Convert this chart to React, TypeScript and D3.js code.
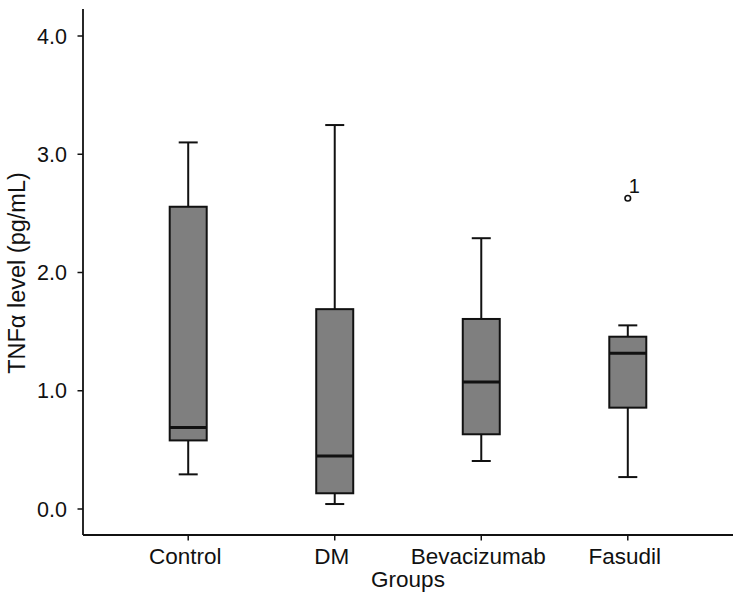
import React from "react";
import * as d3 from "d3";

const groups = ["Control", "DM", "Bevacizumab", "Fasudil"];
const whiskerLow = [0.293, 0.042, 0.406, 0.27];
const q1 = [0.58, 0.133, 0.632, 0.857];
const medians = [0.69, 0.448, 1.074, 1.317];
const q3 = [2.556, 1.69, 1.607, 1.457];
const whiskerHigh = [3.1, 3.247, 2.29, 1.553];
const outliers = [{ group: "Fasudil", value: 2.628, label: "1" }];
const yTicks = [0, 1, 2, 3, 4];

export default function App() {
  const W = 744;
  const H = 598;
  const axisX = 83;
  const axisY = 535;
  const x = d3.scalePoint<string>().domain(groups).range([83, 733]).padding(0.718);
  const y = d3.scaleLinear().domain([0, 4]).range([509, 36]);
  const boxW = 37;
  const capW = 19;
  const font = "'Liberation Sans', Arial, Helvetica, sans-serif";
  const ink = "#111";
  const txt = "#111";

  return (
    <svg width={W} height={H} style={{ position: "absolute", left: 0, top: 0, background: "#fff" }} fontFamily={font}>
      {/* axes */}
      <line x1={axisX} x2={axisX} y1={9} y2={axisY} stroke={ink} strokeWidth={1.8} />
      <line x1={axisX} x2={733} y1={axisY} y2={axisY} stroke={ink} strokeWidth={1.8} />
      {yTicks.map((t) => (
        <g key={t}>
          <line x1={axisX - 5.5} x2={axisX} y1={y(t)} y2={y(t)} stroke={ink} strokeWidth={1.5} />
          <text x={67} y={y(t) + 7.5} textAnchor="end" fontSize={21.5} fill={txt}>
            {d3.format(".1f")(t)}
          </text>
        </g>
      ))}
      {groups.map((g) => (
        <g key={g}>
          <line x1={x(g)!} x2={x(g)!} y1={axisY} y2={axisY + 5.5} stroke={ink} strokeWidth={1.5} />
          <text x={x(g)! - 3} y={564} textAnchor="middle" fontSize={22.5} fill={txt}>
            {g}
          </text>
        </g>
      ))}
      <text x={408} y={587} textAnchor="middle" fontSize={22.5} fill={txt}>
        Groups
      </text>
      <text transform={`translate(25,273) rotate(-90)`} textAnchor="middle" fontSize={23.5} fill={txt}>
        TNFα level (pg/mL)
      </text>

      {/* boxes */}
      {groups.map((g, i) => {
        const cx = x(g)!;
        return (
          <g key={g}>
            <line x1={cx} x2={cx} y1={y(whiskerHigh[i])} y2={y(q3[i])} stroke={ink} strokeWidth={2} />
            <line x1={cx} x2={cx} y1={y(q1[i])} y2={y(whiskerLow[i])} stroke={ink} strokeWidth={2} />
            <line x1={cx - capW / 2} x2={cx + capW / 2} y1={y(whiskerHigh[i])} y2={y(whiskerHigh[i])} stroke={ink} strokeWidth={2} />
            <line x1={cx - capW / 2} x2={cx + capW / 2} y1={y(whiskerLow[i])} y2={y(whiskerLow[i])} stroke={ink} strokeWidth={2} />
            <rect
              x={cx - boxW / 2}
              y={y(q3[i])}
              width={boxW}
              height={y(q1[i]) - y(q3[i])}
              fill="#7f7f7f"
              stroke={ink}
              strokeWidth={2}
            />
            <line x1={cx - boxW / 2} x2={cx + boxW / 2} y1={y(medians[i])} y2={y(medians[i])} stroke={ink} strokeWidth={3} />
          </g>
        );
      })}

      {/* outliers */}
      {outliers.map((o, k) => (
        <g key={k}>
          <circle cx={x(o.group)!} cy={y(o.value)} r={2.8} fill="#fff" stroke={ink} strokeWidth={1.6} />
          <text x={x(o.group)! + 1} y={y(o.value) - 5} fontSize={20} fill={txt}>
            {o.label}
          </text>
        </g>
      ))}
    </svg>
  );
}
